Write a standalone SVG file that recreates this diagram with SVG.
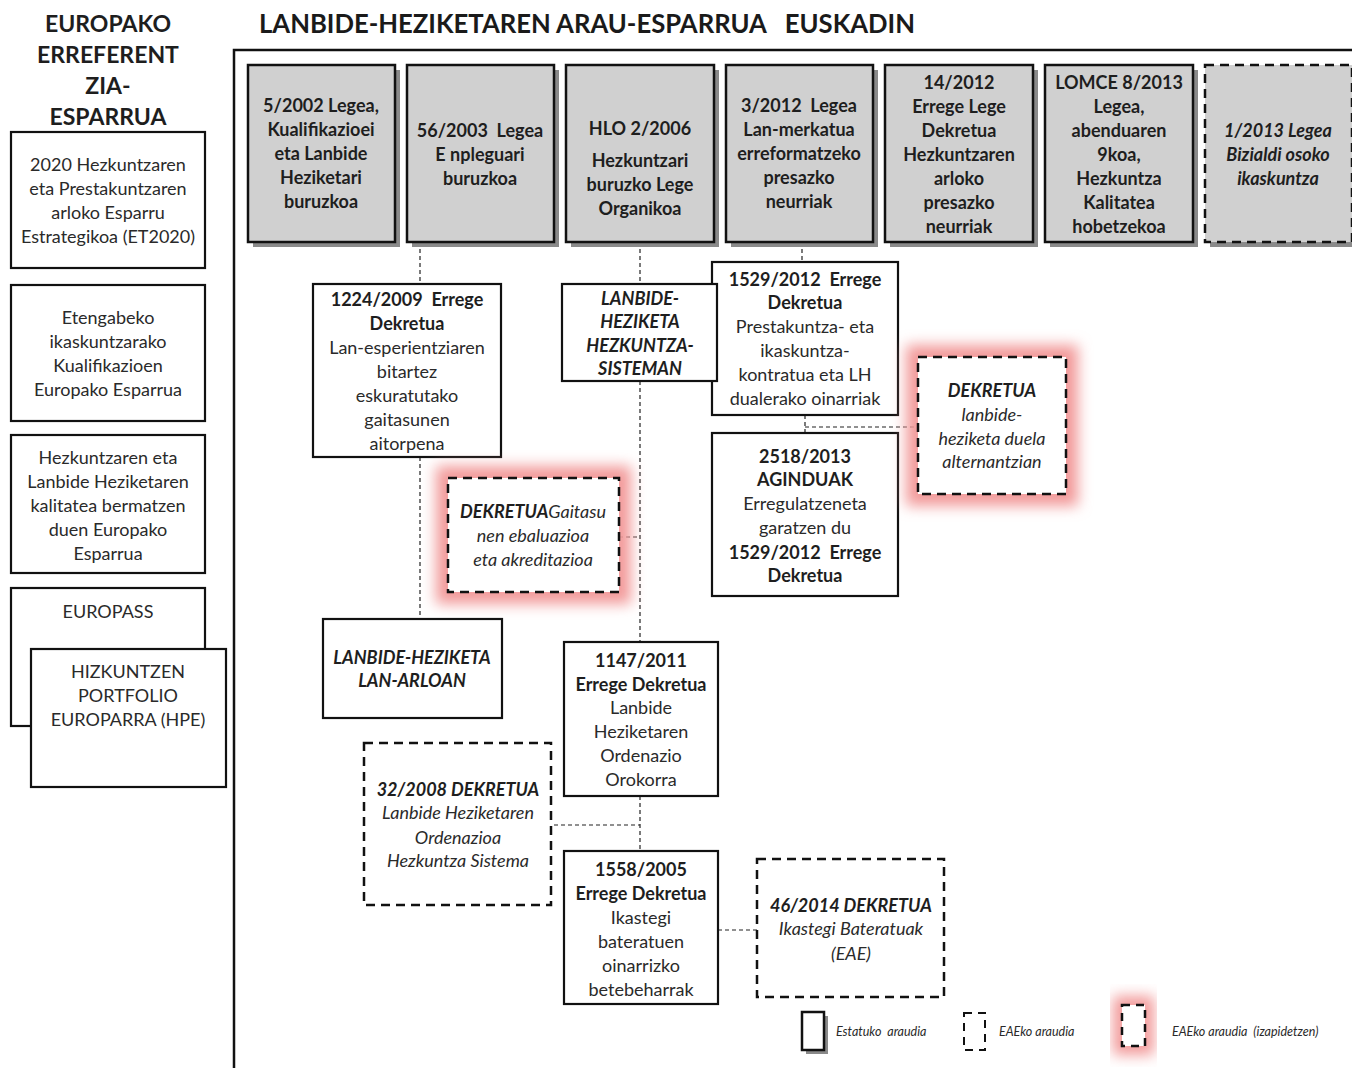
<svg xmlns="http://www.w3.org/2000/svg" width="1352" height="1068" viewBox="0 0 1352 1068">
<defs>
<style>
text{font-family:Lato,"Open Sans","Liberation Sans",sans-serif;fill:#2a2a2a;text-anchor:middle;white-space:pre}
.t{font-size:18px}
.b{font-weight:bold;fill:#1e1e1e}
.i{font-style:italic}
.hb{fill:#d0d0d0;stroke:#111;stroke-width:2.5}
.sh{fill:#8a8a8a}
.nb{fill:#fff;stroke:#111;stroke-width:2.2}
.db{fill:#fff;stroke:#111;stroke-width:2.5;stroke-dasharray:9 6}
.hd{fill:#d0d0d0;stroke:#111;stroke-width:2.5;stroke-dasharray:9 6}
.gl{fill:none;stroke:#f29a9a;stroke-width:24;filter:url(#glow)}
.c{stroke:#222;stroke-width:1.2;stroke-dasharray:4 3;fill:none}
.lg{font-size:12.5px;font-style:italic;text-anchor:start}
</style>
<filter id="glow" x="-50%" y="-50%" width="200%" height="200%"><feGaussianBlur stdDeviation="7"/></filter>
</defs>
<rect width="1352" height="1068" fill="#fff"/>

<g id="title">
<text x="587" y="33" style="font-size:26px;font-weight:bold;fill:#1a1a1a" textLength="656" lengthAdjust="spacingAndGlyphs">LANBIDE-HEZIKETAREN ARAU-ESPARRUA   EUSKADIN</text>
</g>
<path id="frame" d="M234 1068 V50 H1352" fill="none" stroke="#111" stroke-width="2.5"/>

<g id="left-title">
<text class="b" x="108" y="32" style="font-size:23px">EUROPAKO</text>
<text class="b" x="108" y="63" style="font-size:23px">ERREFERENT</text>
<text class="b" x="108" y="94" style="font-size:23px">ZIA-</text>
<text class="b" x="108" y="125" style="font-size:23px">ESPARRUA</text>
</g>
<g id="eu-et2020">
<rect class="nb" x="11" y="132" width="194" height="136"/>
<text class="t" x="108" y="171">2020 Hezkuntzaren</text>
<text class="t" x="108" y="195">eta Prestakuntzaren</text>
<text class="t" x="108" y="219">arloko Esparru</text>
<text class="t" x="108" y="243">Estrategikoa (ET2020)</text>
</g>
<g id="eu-eqf">
<rect class="nb" x="11" y="285" width="194" height="136"/>
<text class="t" x="108" y="324">Etengabeko</text>
<text class="t" x="108" y="348">ikaskuntzarako</text>
<text class="t" x="108" y="372">Kualifikazioen</text>
<text class="t" x="108" y="396">Europako Esparrua</text>
</g>
<g id="eu-eqavet">
<rect class="nb" x="11" y="435" width="194" height="138"/>
<text class="t" x="108" y="464">Hezkuntzaren eta</text>
<text class="t" x="108" y="488">Lanbide Heziketaren</text>
<text class="t" x="108" y="512">kalitatea bermatzen</text>
<text class="t" x="108" y="536">duen Europako</text>
<text class="t" x="108" y="560">Esparrua</text>
</g>
<g id="eu-europass">
<rect class="nb" x="11" y="588" width="194" height="138"/>
<text class="t" x="108" y="618">EUROPASS</text>
</g>
<g id="eu-hpe">
<rect class="nb" x="31" y="649" width="195" height="138"/>
<text class="t" x="128" y="678">HIZKUNTZEN</text>
<text class="t" x="128" y="702">PORTFOLIO</text>
<text class="t" x="128" y="726">EUROPARRA (HPE)</text>
</g>

<g id="connectors">
<path class="c" d="M420 242 V284 M420 457 V619"/>
<path class="c" d="M640 242 V284 M640 381 V642 M640 796 V851"/>
<path class="c" d="M802 242 V262"/>
<path class="c" d="M805 415 V433 M805 427 H918"/>
<path class="c" d="M619 537 H640"/>
<path class="c" d="M540 825 H640"/>
<path class="c" d="M718 930 H757"/>
</g>

<g id="h-5-2002">
<rect class="sh" x="253" y="70" width="147" height="177"/>
<rect class="hb" x="248" y="65" width="147" height="177"/>
<text class="t b" x="321" y="112">5/2002 Legea,</text>
<text class="t b" x="321" y="136">Kualifikazioei</text>
<text class="t b" x="321" y="160">eta Lanbide</text>
<text class="t b" x="321" y="184">Heziketari</text>
<text class="t b" x="321" y="208">buruzkoa</text>
</g>
<g id="h-56-2003">
<rect class="sh" x="412" y="70" width="147" height="177"/>
<rect class="hb" x="407" y="65" width="147" height="177"/>
<text class="t b" x="480" y="137">56/2003  Legea</text>
<text class="t b" x="480" y="161">E npleguari</text>
<text class="t b" x="480" y="185">buruzkoa</text>
</g>
<g id="h-hlo">
<rect class="sh" x="571" y="70" width="148" height="177"/>
<rect class="hb" x="566" y="65" width="148" height="177"/>
<text class="t b" x="640" y="135">HLO 2/2006</text>
<text class="t b" x="640" y="167">Hezkuntzari</text>
<text class="t b" x="640" y="191">buruzko Lege</text>
<text class="t b" x="640" y="215">Organikoa</text>
</g>
<g id="h-3-2012">
<rect class="sh" x="731" y="70" width="147" height="177"/>
<rect class="hb" x="726" y="65" width="147" height="177"/>
<text class="t b" x="799" y="112">3/2012  Legea</text>
<text class="t b" x="799" y="136">Lan-merkatua</text>
<text class="t b" x="799" y="160">erreformatzeko</text>
<text class="t b" x="799" y="184">presazko</text>
<text class="t b" x="799" y="208">neurriak</text>
</g>
<g id="h-14-2012">
<rect class="sh" x="890" y="70" width="148" height="177"/>
<rect class="hb" x="885" y="65" width="148" height="177"/>
<text class="t b" x="959" y="89">14/2012</text>
<text class="t b" x="959" y="113">Errege Lege</text>
<text class="t b" x="959" y="137">Dekretua</text>
<text class="t b" x="959" y="161">Hezkuntzaren</text>
<text class="t b" x="959" y="185">arloko</text>
<text class="t b" x="959" y="209">presazko</text>
<text class="t b" x="959" y="233">neurriak</text>
</g>
<g id="h-lomce">
<rect class="sh" x="1050" y="70" width="148" height="177"/>
<rect class="hb" x="1045" y="65" width="148" height="177"/>
<text class="t b" x="1119" y="89">LOMCE 8/2013</text>
<text class="t b" x="1119" y="113">Legea,</text>
<text class="t b" x="1119" y="137">abenduaren</text>
<text class="t b" x="1119" y="161">9koa,</text>
<text class="t b" x="1119" y="185">Hezkuntza</text>
<text class="t b" x="1119" y="209">Kalitatea</text>
<text class="t b" x="1119" y="233">hobetzekoa</text>
</g>
<g id="h-1-2013">
<rect class="sh" x="1210" y="70" width="147" height="177"/>
<rect class="hd" x="1205" y="65" width="147" height="177"/>
<text class="t b i" x="1278" y="137">1/2013 Legea</text>
<text class="t b i" x="1278" y="161">Bizialdi osoko</text>
<text class="t b i" x="1278" y="185">ikaskuntza</text>
</g>

<g id="n-1224-2009">
<rect class="nb" x="313" y="284" width="188" height="173"/>
<text class="t b" x="407" y="306">1224/2009  Errege</text>
<text class="t b" x="407" y="330">Dekretua</text>
<text class="t" x="407" y="354">Lan-esperientziaren</text>
<text class="t" x="407" y="378">bitartez</text>
<text class="t" x="407" y="402">eskuratutako</text>
<text class="t" x="407" y="426">gaitasunen</text>
<text class="t" x="407" y="450">aitorpena</text>
</g>
<g id="n-1529-2012">
<rect class="nb" x="712" y="262" width="186" height="153"/>
<text class="t b" x="805" y="286">1529/2012  Errege</text>
<text class="t b" x="805" y="309">Dekretua</text>
<text class="t" x="805" y="333">Prestakuntza- eta</text>
<text class="t" x="805" y="357">ikaskuntza-</text>
<text class="t" x="805" y="381">kontratua eta LH</text>
<text class="t" x="805" y="405">dualerako oinarriak</text>
</g>
<g id="n-lh-hezkuntza">
<rect class="nb" x="562" y="284" width="155" height="97"/>
<text class="t b i" x="640" y="305">LANBIDE-</text>
<text class="t b i" x="640" y="328">HEZIKETA</text>
<text class="t b i" x="640" y="352">HEZKUNTZA-</text>
<text class="t b i" x="640" y="375">SISTEMAN</text>
</g>
<g id="n-2518-2013">
<rect class="nb" x="712" y="433" width="186" height="163"/>
<text class="t b" x="805" y="463">2518/2013</text>
<text class="t b" x="805" y="486">AGINDUAK</text>
<text class="t" x="805" y="510">Erregulatzeneta</text>
<text class="t" x="805" y="534">garatzen du</text>
<text class="t b" x="805" y="559">1529/2012  Errege</text>
<text class="t b" x="805" y="582">Dekretua</text>
</g>
<g id="n-dekretua-alternantzia">
<rect class="gl" x="918" y="357" width="148" height="137"/>
<rect class="db" x="918" y="357" width="148" height="137"/>
<text class="t b i" x="992" y="397">DEKRETUA</text>
<text class="t i" x="992" y="421">lanbide-</text>
<text class="t i" x="992" y="445">heziketa duela</text>
<text class="t i" x="992" y="468">alternantzian</text>
</g>
<g id="n-dekretua-gaitasunen">
<rect class="gl" x="448" y="478" width="171" height="114"/>
<rect class="db" x="448" y="478" width="171" height="114"/>
<text class="t i" x="533" y="518"><tspan class="b">DEKRETUA</tspan>Gaitasu</text>
<text class="t i" x="533" y="542">nen ebaluazioa</text>
<text class="t i" x="533" y="566">eta akreditazioa</text>
</g>
<g id="n-lh-lan-arloan">
<rect class="nb" x="323" y="619" width="179" height="99"/>
<text class="t b i" x="412" y="664">LANBIDE-HEZIKETA</text>
<text class="t b i" x="412" y="687">LAN-ARLOAN</text>
</g>
<g id="n-1147-2011">
<rect class="nb" x="564" y="642" width="154" height="154"/>
<text class="t b" x="641" y="667">1147/2011</text>
<text class="t b" x="641" y="691">Errege Dekretua</text>
<text class="t" x="641" y="714">Lanbide</text>
<text class="t" x="641" y="738">Heziketaren</text>
<text class="t" x="641" y="762">Ordenazio</text>
<text class="t" x="641" y="786">Orokorra</text>
</g>
<g id="n-32-2008">
<rect class="db" x="364" y="743" width="187" height="162"/>
<text class="t b i" x="458" y="796">32/2008 DEKRETUA</text>
<text class="t i" x="458" y="819">Lanbide Heziketaren</text>
<text class="t i" x="458" y="844">Ordenazioa</text>
<text class="t i" x="458" y="867">Hezkuntza Sistema</text>
</g>
<g id="n-1558-2005">
<rect class="nb" x="564" y="851" width="154" height="153"/>
<text class="t b" x="641" y="876">1558/2005</text>
<text class="t b" x="641" y="900">Errege Dekretua</text>
<text class="t" x="641" y="924">Ikastegi</text>
<text class="t" x="641" y="948">bateratuen</text>
<text class="t" x="641" y="972">oinarrizko</text>
<text class="t" x="641" y="996">betebeharrak</text>
</g>
<g id="n-46-2014">
<rect class="db" x="757" y="859" width="187" height="138"/>
<text class="t b i" x="851" y="912">46/2014 DEKRETUA</text>
<text class="t i" x="851" y="935">Ikastegi Bateratuak</text>
<text class="t i" x="851" y="960">(EAE)</text>
</g>

<g id="legend">
<rect class="sh" x="806" y="1016" width="22" height="38"/>
<rect class="nb" x="802" y="1012" width="22" height="38" style="stroke-width:2.5"/>
<text class="lg" x="836" y="1036">Estatuko  araudia</text>
<rect fill="#fff" stroke="#111" stroke-width="2" stroke-dasharray="8 6" x="964" y="1013" width="21" height="37"/>
<text class="lg" x="999" y="1036">EAEko araudia</text>
<rect class="gl" x="1122" y="1005" width="23" height="41" style="stroke-width:18"/>
<rect fill="#fff" stroke="#111" stroke-width="2.5" stroke-dasharray="8 6" x="1122" y="1005" width="23" height="41"/>
<text class="lg" x="1172" y="1036">EAEko araudia  (izapidetzen)</text>
</g>
</svg>
